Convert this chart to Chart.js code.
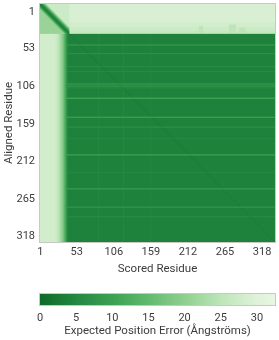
<!DOCTYPE html>
<html>
<head>
<meta charset="utf-8">
<script src="https://cdn.jsdelivr.net/npm/chart.js@4/dist/chart.umd.min.js"></script>
<style>
body{margin:0;background:#fff;width:279px;height:340px;overflow:hidden}
#pae{position:absolute;left:0;top:0}
#bar{position:absolute;left:0;top:278px}
</style>
</head>
<body>
<canvas id="pae" width="279" height="280"></canvas>
<canvas id="bar" width="279" height="62"></canvas>
<script>
// axis ticks
const residueTicks = [1, 53, 106, 159, 212, 265, 318];
const nResidues = 336;
const errorTicks = [0, 5, 10, 15, 20, 25, 30];

// colour scale (expected position error -> colour)
const errorValues = [0, 5, 10, 15, 20, 25, 30, 32.5];
const errorColors = ["#0e6a29", "#238841", "#3ba152", "#62ba6f", "#90cf8f", "#bde5b8", "#dff2da", "#e9f6e5"];

// N-terminal disordered rows (aligned residue 1..42), error per row
const topRowError = [29,29,29,29,29,29,29,29,29,29,29,29,29,29,29,29,29,29,29,29,
                     29,29,29,29,29,29,28,28,28,28,28,28,28,27,27,27,27,27,26,26,26,25];
// N-terminal scored residues (columns 1..40), error per column
const leftColError = [28,28,28,28,28,28,28,28,28,28,28,28,28,28,28,28,28,28,28,28,
                      28,28,27,27,26,26,25,24,23,22,21,20,19,17,15,13,11,9,7,5];
// error against distance from the diagonal inside the N-terminal block
const diagError = [3, 4, 6, 8, 10, 13, 16, 19, 22, 25, 27];
const blockLowerError = 21;
const blockUpperError = 27;
// faint greener patches in the top band: [fromCol, toCol, fromRow, error]
const topPatches = [[228, 233, 32, 25], [271, 280, 30, 25], [286, 294, 34, 25]];

// structured core
const coreError = 4;
const stripeRows = [58, 59, 70, 71, 89, 96, 113, 114, 116, 117, 119, 133, 134, 160, 161, 174, 175, 190, 213, 214, 238, 261, 262, 287, 288, 301];
const stripeRowError = [8, 7, 7, 6, 7, 6, 8, 7, 8, 7, 7, 10, 10, 10, 9, 7, 6, 6, 9, 9, 6, 8, 8, 8, 7, 7];
const stripeCols = [158, 84, 120];
const stripeColError = [5.5, 5, 5];

function hexRgb(h) {
  return [parseInt(h.slice(1, 3), 16), parseInt(h.slice(3, 5), 16), parseInt(h.slice(5, 7), 16)];
}
const stopRgb = errorColors.map(hexRgb);
function colorFor(v) {
  if (v <= errorValues[0]) return stopRgb[0];
  for (let k = 1; k < errorValues.length; k++) {
    if (v <= errorValues[k]) {
      const t = (v - errorValues[k - 1]) / (errorValues[k] - errorValues[k - 1]);
      const a = stopRgb[k - 1], b = stopRgb[k];
      return [a[0] + (b[0] - a[0]) * t, a[1] + (b[1] - a[1]) * t, a[2] + (b[2] - a[2]) * t];
    }
  }
  return stopRgb[stopRgb.length - 1];
}

function pae(i, j) {
  const nTop = topRowError.length;
  const nLeft = leftColError.length;
  if (i <= nTop && j <= nTop) {
    const d = Math.abs(i - j);
    const near = diagError[Math.min(d, diagError.length - 1)];
    return Math.min(near, i > j ? blockLowerError : blockUpperError);
  }
  if (i <= nTop) {
    let v = topRowError[i - 1];
    topPatches.forEach(p => { if (j >= p[0] && j <= p[1] && i >= p[2]) v = Math.min(v, p[3]); });
    return v;
  }
  let v = coreError;
  const r = stripeRows.indexOf(i);
  if (r >= 0) v = Math.max(v, stripeRowError[r]);
  const c = stripeCols.indexOf(j);
  if (c >= 0) v = Math.max(v, stripeColError[c]);
  if (Math.abs(i - j) <= 1) v -= 0.6;
  if (j <= nLeft) v = Math.max(v, leftColError[j - 1]);
  return v;
}

// heatmap image, one pixel per residue pair
const heat = document.createElement("canvas");
heat.width = nResidues;
heat.height = nResidues;
const hctx = heat.getContext("2d");
const img = hctx.createImageData(nResidues, nResidues);
for (let i = 1; i <= nResidues; i++) {
  for (let j = 1; j <= nResidues; j++) {
    const c = colorFor(pae(i, j));
    const k = ((i - 1) * nResidues + (j - 1)) * 4;
    img.data[k] = c[0]; img.data[k + 1] = c[1]; img.data[k + 2] = c[2]; img.data[k + 3] = 255;
  }
}
hctx.putImageData(img, 0, 0);

const heatmapPlugin = {
  id: "heatmap",
  beforeDatasetsDraw(chart) {
    const {ctx, chartArea, scales: {x, y}} = chart;
    const x0 = x.getPixelForValue(0.5), x1 = x.getPixelForValue(nResidues + 0.5);
    const y0 = y.getPixelForValue(0.5), y1 = y.getPixelForValue(nResidues + 0.5);
    ctx.save();
    ctx.imageSmoothingEnabled = true;
    ctx.drawImage(heat, x0, y0, x1 - x0, y1 - y0);
    ctx.strokeStyle = "#c8c8c8";
    ctx.lineWidth = 1;
    ctx.strokeRect(chartArea.left - 0.5, chartArea.top - 0.5, chartArea.width + 1, chartArea.height + 1);
    ctx.restore();
  }
};

// keep the plot box fixed: no automatic room for overhanging tick labels
function noPadding(s) {
  s.paddingTop = 0; s.paddingBottom = 0; s.paddingLeft = 0; s.paddingRight = 0;
}

const font = {family: "Roboto", size: 11};
const titleFont = {family: "Roboto", size: 11.5};
const textColor = "#3c3c3c";

new Chart(document.querySelector("#pae").getContext("2d"), {
  type: "scatter",
  data: {datasets: []},
  options: {
    responsive: false,
    animation: false,
    layout: {padding: {top: 4, right: 4, left: 0, bottom: 0}},
    plugins: {legend: {display: false}, tooltip: {enabled: false}},
    scales: {
      x: {
        type: "linear", min: 0.5, max: nResidues + 0.5,
        afterBuildTicks: s => { s.ticks = residueTicks.map(v => ({value: v})); },
        afterFit: s => { s.height = 38; noPadding(s); },
        grid: {display: false, drawTicks: false},
        border: {display: false},
        ticks: {font: font, color: textColor, padding: 4, maxRotation: 0},
        title: {display: true, text: "Scored Residue", font: titleFont, color: textColor, padding: {top: 0, bottom: 4}}
      },
      y: {
        type: "linear", reverse: true, min: 0.5, max: nResidues + 0.5,
        afterBuildTicks: s => { s.ticks = residueTicks.map(v => ({value: v})); },
        afterFit: s => { s.width = 40; noPadding(s); },
        grid: {display: false, drawTicks: false},
        border: {display: false},
        ticks: {font: font, color: textColor, padding: 5, labelOffset: 7.5},
        title: {display: true, text: "Aligned Residue", font: titleFont, color: textColor, padding: {top: 2, bottom: 0}}
      }
    }
  },
  plugins: [heatmapPlugin]
});

const colorbarPlugin = {
  id: "colorbar",
  beforeDatasetsDraw(chart) {
    const {ctx, chartArea, scales: {x}} = chart;
    const g0 = x.getPixelForValue(errorValues[0]);
    const g1 = x.getPixelForValue(errorValues[errorValues.length - 1]);
    const grad = ctx.createLinearGradient(g0, 0, g1, 0);
    errorValues.forEach((v, k) => grad.addColorStop((v - errorValues[0]) / (errorValues[errorValues.length - 1] - errorValues[0]), errorColors[k]));
    ctx.save();
    ctx.fillStyle = grad;
    ctx.fillRect(chartArea.left, chartArea.top, chartArea.width, chartArea.height);
    ctx.strokeStyle = "#c8c8c8";
    ctx.strokeRect(chartArea.left - 0.5, chartArea.top - 0.5, chartArea.width + 1, chartArea.height + 1);
    ctx.restore();
  }
};

new Chart(document.querySelector("#bar").getContext("2d"), {
  type: "scatter",
  data: {datasets: []},
  options: {
    responsive: false,
    animation: false,
    layout: {padding: {top: 16, right: 4, left: 40, bottom: 0}},
    plugins: {legend: {display: false}, tooltip: {enabled: false}},
    scales: {
      x: {
        type: "linear", min: 0, max: 32.5,
        afterBuildTicks: s => { s.ticks = errorTicks.map(v => ({value: v})); },
        afterFit: s => { s.height = 35; noPadding(s); },
        grid: {display: false, drawTicks: false},
        border: {display: false},
        ticks: {font: font, color: textColor, padding: 7, maxRotation: 0},
        title: {display: true, text: "Expected Position Error (Ångströms)", font: titleFont, color: textColor, padding: {top: 0, bottom: 2}}
      },
      y: {display: false, min: 0, max: 1}
    }
  },
  plugins: [colorbarPlugin]
});
</script>
</body>
</html>
